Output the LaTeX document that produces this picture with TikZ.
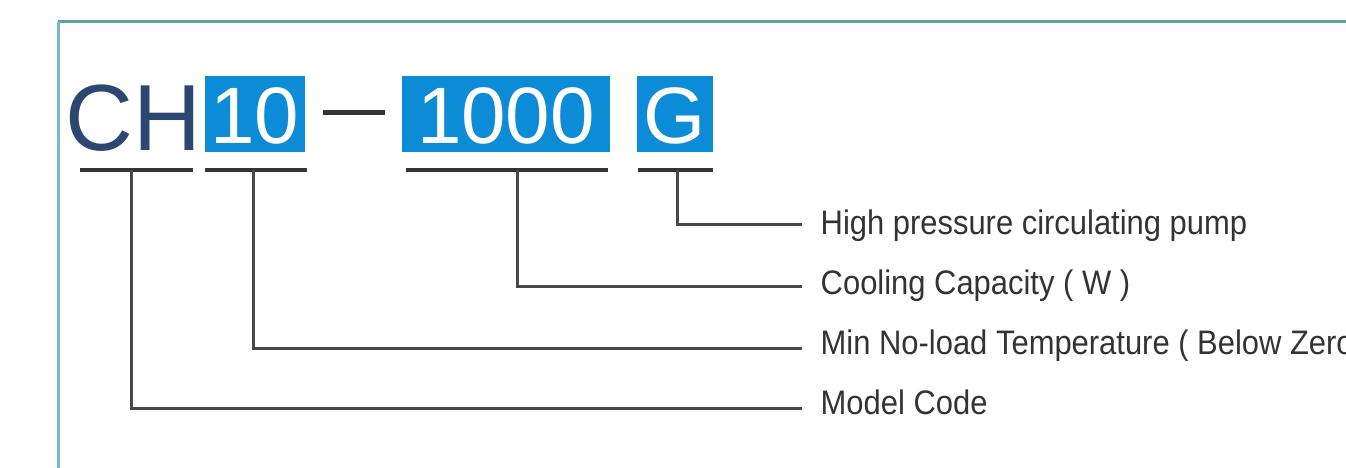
\documentclass[tikz,border=0pt]{standalone}
\usepackage{fontspec}
\setmainfont{Liberation Sans}
\newfontfamily\labfont[FakeStretch=0.91]{Liberation Sans}
\definecolor{boxblue}{RGB}{12,140,214}
\definecolor{navy}{RGB}{45,72,112}
\definecolor{linegray}{RGB}{72,72,72}
\definecolor{undergray}{RGB}{52,52,52}
\definecolor{bordertop}{RGB}{100,155,165}
\definecolor{borderleft}{RGB}{120,182,215}
\tikzset{
  codebox/.style={fill=boxblue, text=white, inner sep=0pt, minimum height=76pt,
    text height=58pt, text depth=0pt, font=\fontsize{80}{86}\selectfont},
  lab/.style={inner sep=0pt, anchor=base west, text=black!80, font=\labfont\fontsize{34}{40}\selectfont},
  uline/.style={draw=undergray, line width=4.5pt},
  conn/.style={draw=linegray, line width=3pt},
}
\begin{document}
\begin{tikzpicture}[x=1pt,y=-1pt]
\useasboundingbox (0,0) rectangle (1346,468);
\clip (0,0) rectangle (1346,468);
\fill[white] (0,0) rectangle (1346,468);
% frame
\draw[bordertop, line width=3pt] (58,22) -- (1346,22);
\draw[borderleft, line width=3pt] (58,22) -- (58,468);
% code parts
\node[inner sep=0pt, anchor=base west, text=navy, font=\fontsize{94}{100}\selectfont] (ch) at (65,150) {CH};
\node[codebox, minimum width=100pt] (ten) at (255,114) {10};
\draw[undergray, line width=5pt] (323,113) -- (385,113);
\node[codebox, minimum width=208pt] (thou) at (506,114) {1000};
\node[codebox, minimum width=76pt] (gee) at (675,114) {G};
% underlines
\coordinate (chL) at (80,170);  \coordinate (chR) at (193,170);
\coordinate (tenL) at (205,170); \coordinate (tenR) at (307,170);
\coordinate (thL) at (406,170); \coordinate (thR) at (608,170);
\coordinate (gL) at (638,170);  \coordinate (gR) at (713,170);
\draw[uline] (chL) -- (chR);
\draw[uline] (tenL) -- (tenR);
\draw[uline] (thL) -- (thR);
\draw[uline] (gL) -- (gR);
% connector starts
\coordinate (chS) at (131,170);
\coordinate (tenS) at (253,170);
\coordinate (thS) at (517,170);
\coordinate (gS) at (677,170);
% connector ends
\coordinate (gE) at (802,224);
\coordinate (thE) at (802,286);
\coordinate (tenE) at (802,348);
\coordinate (chE) at (802,408);
\draw[conn] (gS) |- (gE);
\draw[conn] (thS) |- (thE);
\draw[conn] (tenS) |- (tenE);
\draw[conn] (chS) |- (chE);
% labels
\node[lab] (lg) at (820.5,234) {High pressure circulating pump};
\node[lab] (lth) at (820.5,294) {Cooling Capacity ( W )};
\node[lab] (lten) at (820.5,354) {Min No-load Temperature ( Below Zero )};
\node[lab] (lch) at (820.5,414) {Model Code};
\end{tikzpicture}
\end{document}
